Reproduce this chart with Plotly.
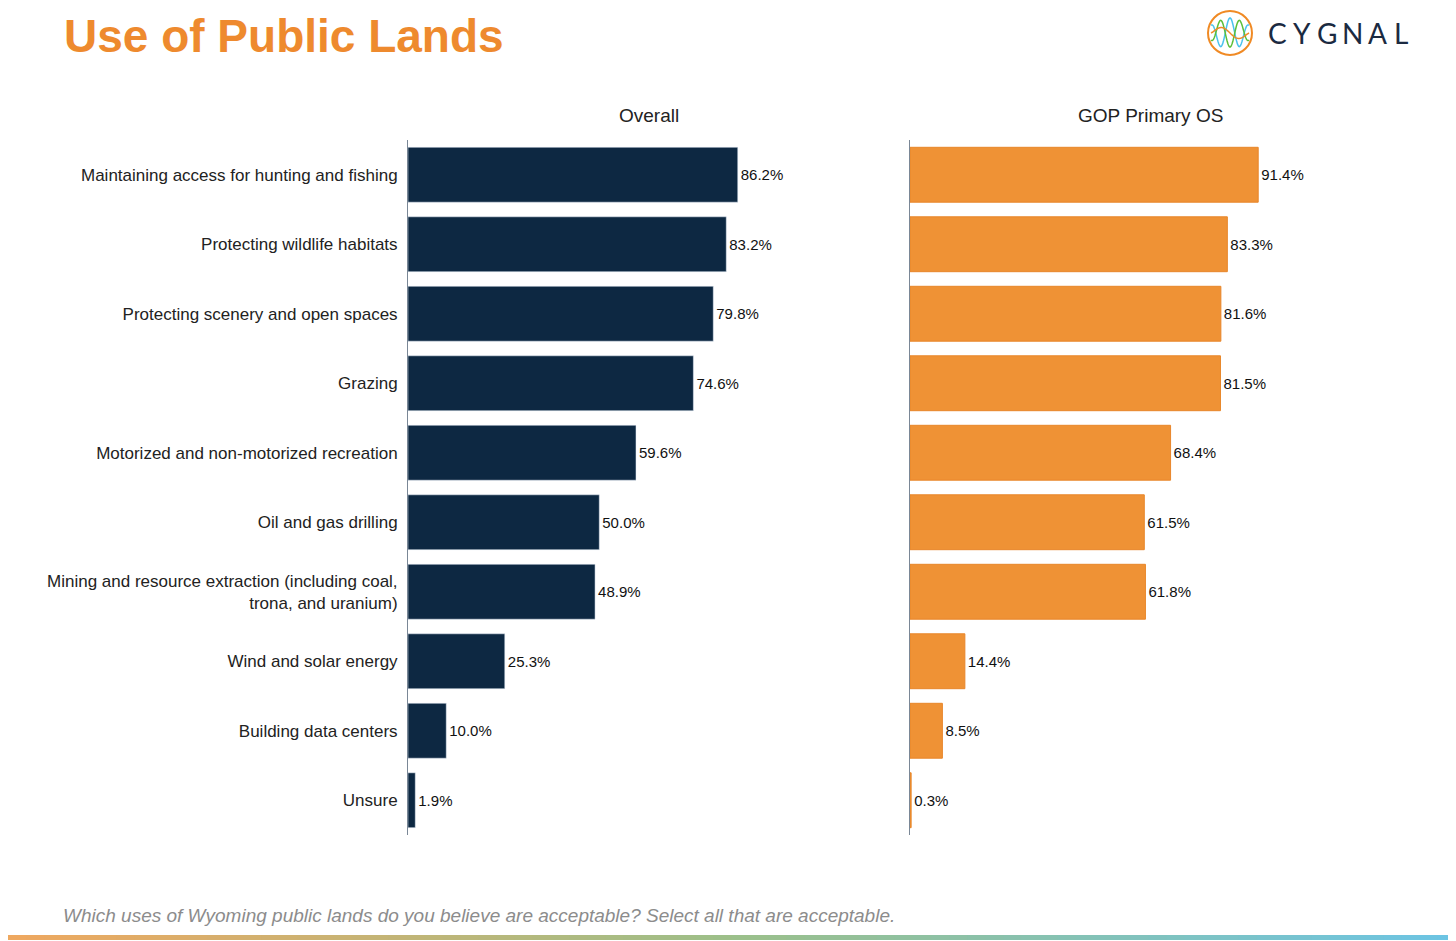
import numpy as np
import plotly.graph_objects as go

# ---- data ----
categories = [
    "Maintaining access for hunting and fishing",
    "Protecting wildlife habitats",
    "Protecting scenery and open spaces",
    "Grazing",
    "Motorized and non-motorized recreation",
    "Oil and gas drilling",
    "Mining and resource extraction (including coal,<br>trona, and uranium)",
    "Wind and solar energy",
    "Building data centers",
    "Unsure",
]
overall = [86.2, 83.2, 79.8, 74.6, 59.6, 50.0, 48.9, 25.3, 10.0, 1.9]
gop_primary = [91.4, 83.3, 81.6, 81.5, 68.4, 61.5, 61.8, 14.4, 8.5, 0.3]
panel_titles = ["Overall", "GOP Primary OS"]

# page has an 8px body margin, so the figure is made 8px smaller and
# positions below are given in screen pixels
OFF = 8
W, H = 1456 - OFF, 941 - OFF
L, T = 408 - OFF, 140 - OFF
R = W - (1390 - OFF)
B = H - (835 - OFF)
PW, PH = W - L - R, H - T - B

def px(x):
    return (x - OFF - L) / PW

def py(y):
    return (H - B - (y - OFF)) / PH

NAVY = "#0D2842"
ORANGE = "#EF9235"

fig = go.Figure()
fig.add_trace(go.Bar(
    y=categories, x=overall, orientation="h", xaxis="x", yaxis="y",
    marker_color=NAVY, width=0.79,
    text=[f"{v:.1f}%" for v in overall], textposition="outside",
    textfont=dict(size=15, color="#111"), cliponaxis=False,
))
fig.add_trace(go.Bar(
    y=categories, x=gop_primary, orientation="h", xaxis="x2", yaxis="y2",
    marker=dict(color=ORANGE, line=dict(color="#E8862A", width=1)), width=0.79,
    text=[f"{v:.1f}%" for v in gop_primary], textposition="outside",
    textfont=dict(size=15, color="#111"), cliponaxis=False,
))

d1 = [0, px(890)]
d2 = [px(910), 1]
fig.update_layout(
    width=W, height=H,
    margin=dict(l=L, r=R, t=T, b=B),
    paper_bgcolor="white", plot_bgcolor="white",
    showlegend=False,
    font=dict(family="Liberation Sans, Arial", size=17, color="#222"),
    xaxis=dict(domain=d1, range=[0, 126], visible=False),
    xaxis2=dict(domain=d2, range=[0, 126], visible=False),
    yaxis=dict(anchor="x", categoryorder="array", categoryarray=categories,
               range=[9.5, -0.5], showline=True, linecolor="#7a8796", linewidth=1,
               showgrid=False, ticks="", ticklabelstandoff=6,
               tickfont=dict(size=17, color="#222")),
    yaxis2=dict(anchor="x2", categoryorder="array", categoryarray=categories,
                range=[9.5, -0.5], showline=True, linecolor="#7a8796", linewidth=1,
                showgrid=False, ticks="", showticklabels=False),
)

ann = []
for title, dom in zip(panel_titles, [d1, d2]):
    ann.append(dict(text=title, x=(dom[0] + dom[1]) / 2, y=py(115), xref="paper", yref="paper",
                    xanchor="center", yanchor="middle", showarrow=False,
                    font=dict(size=19, color="#222")))
ann.append(dict(text="<b>Use of Public Lands</b>", x=px(62), y=py(36), xref="paper", yref="paper",
                xanchor="left", yanchor="middle", showarrow=False,
                font=dict(size=46, color="#EE8A2E", family="Liberation Sans, Arial")))
ann.append(dict(text="<i>Which uses of Wyoming public lands do you believe are acceptable? Select all that are acceptable.</i>",
                x=px(61), y=py(915), xref="paper", yref="paper", xanchor="left", yanchor="middle",
                showarrow=False, font=dict(size=19, color="#8c8c8c")))
# logo letters
for ch, cx in zip("CYGNAL", [1277, 1302, 1327, 1352, 1377, 1401]):
    ann.append(dict(text=ch, x=px(cx), y=py(33), xref="paper", yref="paper",
                    xanchor="center", yanchor="middle", showarrow=False,
                    font=dict(size=28, color="#1B2A41", family="Lato")))
fig.update_layout(annotations=ann)

shapes = []
# bottom gradient strip
stops = [(0.0, (240, 168, 96)), (0.5, (156, 192, 138)), (1.0, (108, 197, 229))]
n = 80
for i in range(n):
    t = (i + 0.5) / n
    if t <= 0.5:
        a, b, f = stops[0][1], stops[1][1], t / 0.5
    else:
        a, b, f = stops[1][1], stops[2][1], (t - 0.5) / 0.5
    c = tuple(int(a[k] + (b[k] - a[k]) * f) for k in range(3))
    shapes.append(dict(type="rect", xref="paper", yref="paper",
                       x0=px(OFF + i * W / n), x1=px(OFF + (i + 1) * W / n + 1),
                       y0=py(940), y1=py(935), line_width=0,
                       fillcolor=f"rgb{c}"))
# logo circle and waves
cx, cy, r = 1230, 33, 22
shapes.append(dict(type="circle", xref="paper", yref="paper",
                   x0=px(cx - r), x1=px(cx + r), y0=py(cy + r), y1=py(cy - r),
                   line=dict(color="#F08A24", width=2)))
xs = np.linspace(cx - r + 3, cx + r - 3, 60)
u = (xs - xs[0]) / (xs[-1] - xs[0])
env = np.sqrt(np.clip(1 - ((xs - cx) / r) ** 2, 0, 1))
for col, per, amp, ph in [("#4CC3EE", 2.0, 15, 0.5 * np.pi), ("#5CBF3A", 2.0, 14, -0.5 * np.pi), ("#F08A24", 1.0, 6, 0.0)]:
    ys = cy - amp * env * np.sin(2 * np.pi * per * u + ph)
    path = "M " + " L ".join(f"{px(a):.5f},{py(b):.5f}" for a, b in zip(xs, ys))
    shapes.append(dict(type="path", xref="paper", yref="paper", path=path,
                       line=dict(color=col, width=1.5)))
fig.update_layout(shapes=shapes)

fig.write_html("out.html")
